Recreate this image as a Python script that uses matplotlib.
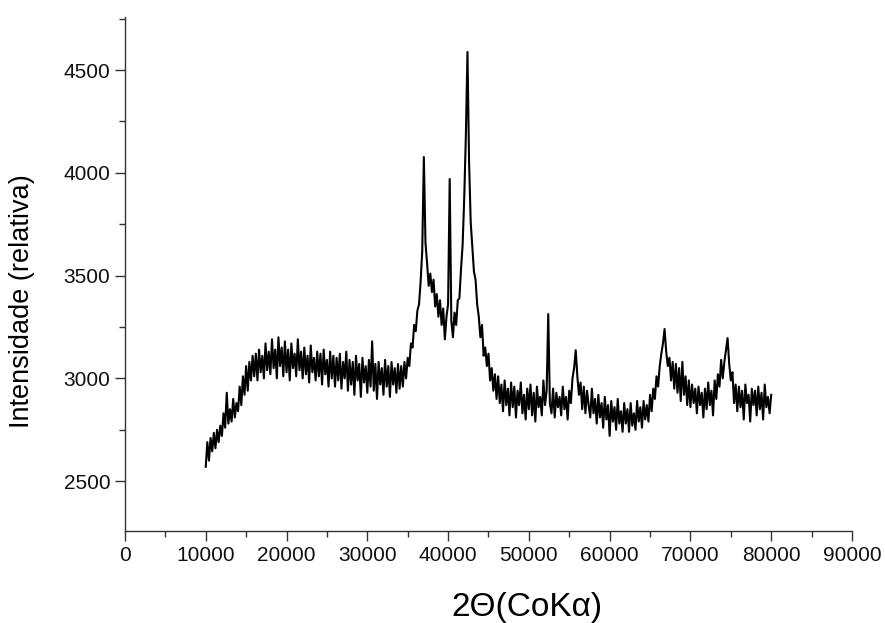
import numpy as np
import matplotlib
matplotlib.use("Agg")
import matplotlib.pyplot as plt
from matplotlib.ticker import MultipleLocator

plt.rcParams['font.family'] = ['Liberation Sans', 'DejaVu Sans']

# 2theta grid (step 200) and intensity
two_theta = np.arange(10000, 80001, 200)
intensity = [
    2570, 2690, 2600, 2710, 2645, 2735, 2660, 2750, 2690, 2770,
    2720, 2830, 2760, 2930, 2780, 2850, 2790, 2900, 2810, 2880,
    2840, 2960, 2870, 3010, 2920, 3060, 2940, 3080, 2990, 3110,
    3010, 3120, 2990, 3140, 3030, 3110, 3000, 3170, 3040, 3130,
    3020, 3190, 3050, 3140, 3000, 3200, 3060, 3150, 3010, 3180,
    3030, 3140, 2990, 3170, 3050, 3120, 3010, 3190, 3040, 3130,
    3000, 3150, 3020, 3110, 2980, 3160, 3030, 3100, 2990, 3130,
    3010, 3120, 2970, 3140, 3020, 3090, 2960, 3130, 3000, 3110,
    2960, 3100, 2990, 3120, 2950, 3080, 3000, 3130, 2940, 3090,
    2970, 3080, 2920, 3110, 2990, 3070, 2910, 3100, 2980, 3060,
    2930, 3090, 2960, 3180, 2940, 3070, 2900, 3080, 2970, 3050,
    2920, 3090, 2960, 3060, 2910, 3080, 2970, 3050, 2930, 3070,
    2950, 3060, 2960, 3080, 3000, 3100, 3060, 3170, 3150, 3260,
    3230, 3330, 3360, 3470, 3620, 4077, 3660, 3560, 3450, 3510,
    3420, 3480, 3350, 3410, 3300, 3380, 3260, 3340, 3190, 3300,
    3360, 3970, 3280, 3200, 3320, 3260, 3380, 3390, 3530, 3650,
    3880, 4180, 4588, 4050, 3760, 3640, 3520, 3480, 3360, 3300,
    3200, 3260, 3110, 3150, 3060, 3120, 2990, 3050, 2940, 3020,
    2900, 3010, 2880, 2970, 2840, 2990, 2870, 2950, 2820, 2980,
    2860, 2960, 2810, 2940, 2870, 2980, 2830, 2920, 2800, 2950,
    2850, 2970, 2820, 2930, 2790, 2960, 2860, 2910, 2820, 2990,
    2870, 2940, 3313, 2880, 2830, 2950, 2810, 2930, 2860, 2910,
    2820, 2960, 2850, 2910, 2800, 2940, 2880, 3000, 3050, 3137,
    3010, 2920, 2980, 2850, 2960, 2830, 2940, 2870, 2810, 2950,
    2830, 2900, 2780, 2920, 2810, 2880, 2760, 2910, 2800, 2870,
    2720, 2890, 2790, 2860, 2750, 2900, 2780, 2840, 2740, 2880,
    2780, 2850, 2740, 2880, 2770, 2830, 2750, 2890, 2790, 2860,
    2760, 2890, 2800, 2870, 2790, 2920, 2840, 2950, 2900, 3010,
    2960, 3060, 3120, 3170, 3240, 3130, 3060, 3100, 2990, 3080,
    2950, 3070, 2930, 3050, 2890, 3080, 2920, 3010, 2870, 2990,
    2860, 2970, 2880, 2950, 2830, 2960, 2870, 2930, 2810, 2950,
    2850, 2980, 2870, 2940, 2820, 2990, 2900, 3020, 2960, 3090,
    3000, 3080, 3140, 3196, 3070, 2990, 3030, 2880, 2970, 2840,
    2960, 2860, 2940, 2800, 2970, 2880, 2920, 2790, 2950, 2870,
    2940, 2820, 2960, 2850, 2930, 2800, 2970, 2860, 2910, 2830,
    2920,
]

fig = plt.figure(figsize=(8.85, 6.23), dpi=100)
ax = fig.add_axes([0.1412, 0.1475, 0.8215, 0.8252])
ax.plot(two_theta, intensity, color='black', lw=1.5)

ax.set_xlim(0, 90000)
ax.set_ylim(2257, 4758)
ax.xaxis.set_major_locator(MultipleLocator(10000))
ax.xaxis.set_minor_locator(MultipleLocator(5000))
ax.yaxis.set_major_locator(MultipleLocator(500))
ax.yaxis.set_minor_locator(MultipleLocator(250))

for s in ['top', 'right']:
    ax.spines[s].set_visible(False)
for s in ['left', 'bottom']:
    ax.spines[s].set_color('#333333')
    ax.spines[s].set_linewidth(1.0)

ax.tick_params(which='major', direction='out', length=7, width=1, labelsize=15, colors='#333333', labelcolor='#111111')
ax.tick_params(which='minor', direction='out', length=4, width=1, colors='#333333')

ax.set_xlabel('2Θ(CoKα)', fontsize=24)
ax.set_ylabel('Intensidade (relativa)', fontsize=19.5)
ax.xaxis.set_label_coords(0.553, -0.118)
ax.yaxis.set_label_coords(-0.124, 0.448)

fig.savefig('out.png', dpi=100)
